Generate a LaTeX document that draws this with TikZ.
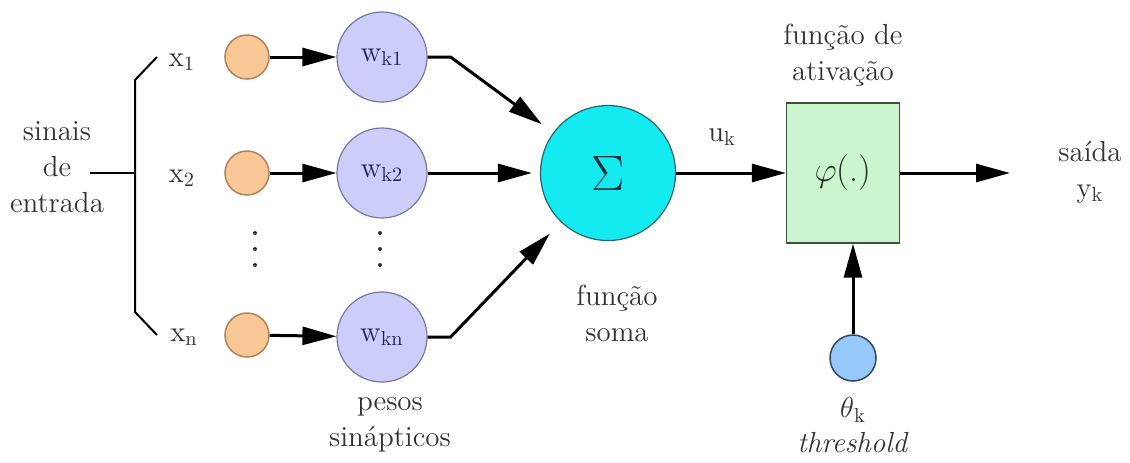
\documentclass[tikz,border=0pt]{standalone}
\usepackage{fontspec}
\usetikzlibrary{arrows.meta,positioning,calc}
\definecolor{nnOrange} {RGB}{250,200,150}
\definecolor{nnOrangeD}{RGB}{175,130, 90}
\definecolor{nnPurple} {RGB}{205,205,250}
\definecolor{nnPurpleD}{RGB}{120,120,160}
\definecolor{nnCyan}   {RGB}{ 20,235,240}
\definecolor{nnCyanD}  {RGB}{ 40,100,110}
\definecolor{nnGreen}  {RGB}{205,245,205}
\definecolor{nnGreenD} {RGB}{ 60, 80, 60}
\definecolor{nnBlue}   {RGB}{150,200,250}
\definecolor{nnBlueD}  {RGB}{ 50, 70,100}
\definecolor{nnNavy}   {RGB}{ 35, 35, 85}
\definecolor{nnText}   {RGB}{ 50, 50, 50}
\newcommand{\sub}[2]{#1\textsubscript{#2}}

\begin{document}
\begin{tikzpicture}[x=0.5pt,y=-0.5pt,
  every node/.style={font=\fontsize{14.5}{18}\selectfont,text=nnText},
  lbl/.style={align=center,inner sep=1pt},
  inp/.style={circle,draw=nnOrangeD,fill=nnOrange,line width=0.75pt,
              minimum size=22pt,inner sep=0pt},
  wgt/.style={circle,draw=nnPurpleD,fill=nnPurple,line width=0.6pt,
              minimum size=45pt,inner sep=0pt,text=nnNavy},
  arr/.style={line width=1.5pt,-{Triangle[length=17pt,width=9pt]}},
  brk/.style={line width=1pt}
]
\useasboundingbox (0,0) rectangle (1130,462);

% entrada e chave
\node[lbl] (sinais) at (57,167) {sinais\\de\\entrada};
\coordinate (bh)  at (90,173);
\coordinate (bm)  at (135,173);
\coordinate (bt)  at (135,80);
\coordinate (bte) at (157,57);
\coordinate (bb)  at (135,312);
\coordinate (bbe) at (157,335);
\draw[brk] (bh) -- (bm);
\draw[brk] (bte) -- (bt) -- (bb) -- (bbe);

\node (x1) at (182,62)  {\sub{x}{1}};
\node (x2) at (182,178) {\sub{x}{2}};
\node (xn) at (184,337) {\sub{x}{n}};

% entradas
\node[inp] (i1) at (247,57)  {};
\node[inp] (i2) at (247,173) {};
\node[inp] (in) at (247,335) {};

% pesos
\node[wgt] (w1) at (382,57)  {\sub{w}{k1}};
\node[wgt] (w2) at (382,173) {\sub{w}{k2}};
\node[wgt] (wn) at (382,337) {\sub{w}{kn}};

\foreach \xx in {255,380}
  \foreach \yy in {233,249,265}
    \fill[nnText] (\xx,\yy) circle (2);

\draw[arr] (i1) -- (w1);
\draw[arr] (i2) -- (w2);
\draw[arr] (in) -- (wn);

\node[lbl] (pesos) at (390,425) {pesos\\sinápticos};

% soma
\node[circle,draw=nnCyanD,fill=nnCyan,line width=0.6pt,minimum size=67.5pt,
      inner sep=0pt,text=nnCyanD!50!black,font=\fontsize{24}{28}\selectfont]
   (soma) at (608,173) {$\Sigma$};
\node[lbl] (fsoma) at (617,313) {função\\soma};

\draw[arr,shorten >=7pt] (w1.east) -- ++(23,0) -- (soma);
\draw[arr,shorten >=4pt] (w2) -- (soma);
\draw[arr,shorten >=8pt] (wn.east) -- ++(23,0) -- (soma);

% ativacao
\node[draw=nnGreenD,fill=nnGreen,line width=0.6pt,minimum width=56.5pt,
      minimum height=70pt,inner sep=0pt,text=nnGreenD!60!black,
      font=\fontsize{18}{22}\selectfont]
   (phi) at (843,173) {$\varphi$(.)};
\node[lbl] (fativ) at (843,55) {função de\\ativação};
\node (uk) at (722,137) {\sub{u}{k}};
\draw[arr] (soma) -- (phi);

\coordinate (out) at (1010,173);
\draw[arr] (phi) -- (out);
\node[lbl] (saida) at (1090,172) {saída\\\sub{y}{k}};

% limiar
\node[circle,draw=nnBlueD,fill=nnBlue,line width=0.75pt,minimum size=23pt,
      inner sep=0pt] (th) at (853,358) {};
\draw[arr] (th) -- (th |- phi.south);
\node (thk) at (853,410) {$\theta$\textsubscript{k}};
\node (thr) at (853,443) {\textit{threshold}};
\end{tikzpicture}
\end{document}
